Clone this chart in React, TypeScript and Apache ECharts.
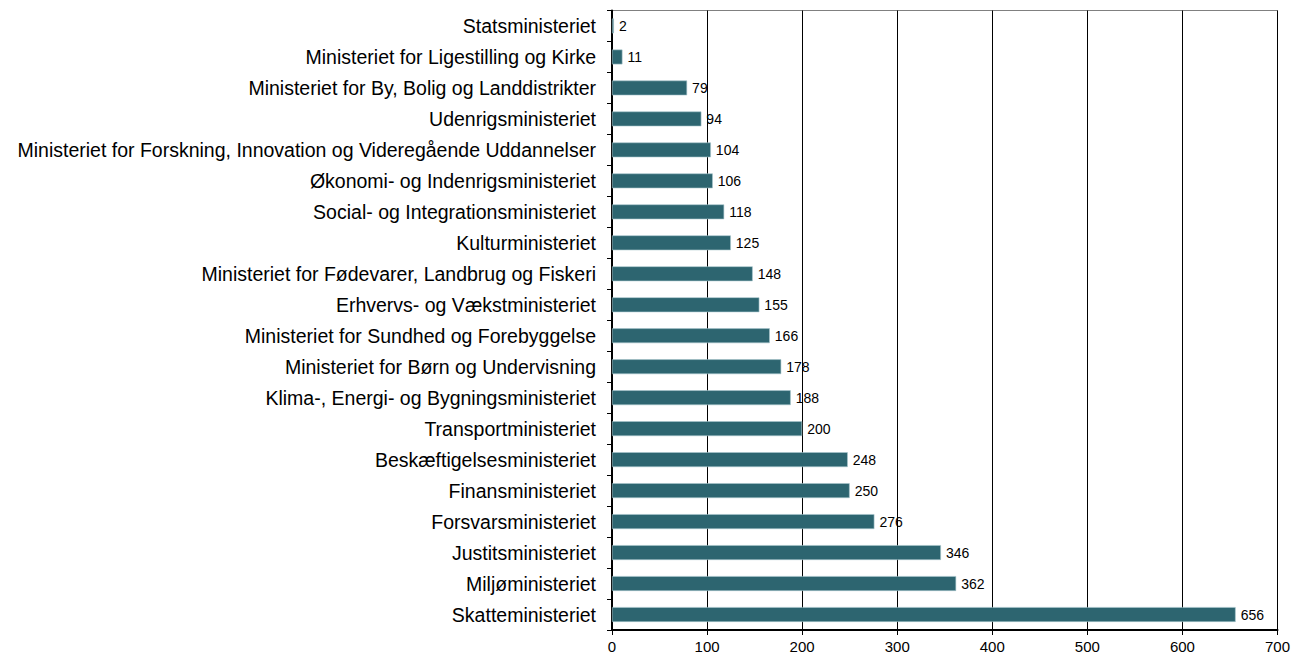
import React, { useEffect, useRef } from "react";
import * as echarts from "echarts";

const categories = [
  "Statsministeriet",
  "Ministeriet for Ligestilling og Kirke",
  "Ministeriet for By, Bolig og Landdistrikter",
  "Udenrigsministeriet",
  "Ministeriet for Forskning, Innovation og Videregående Uddannelser",
  "Økonomi- og Indenrigsministeriet",
  "Social- og Integrationsministeriet",
  "Kulturministeriet",
  "Ministeriet for Fødevarer, Landbrug og Fiskeri",
  "Erhvervs- og Vækstministeriet",
  "Ministeriet for Sundhed og Forebyggelse",
  "Ministeriet for Børn og Undervisning",
  "Klima-, Energi- og Bygningsministeriet",
  "Transportministeriet",
  "Beskæftigelsesministeriet",
  "Finansministeriet",
  "Forsvarsministeriet",
  "Justitsministeriet",
  "Miljøministeriet",
  "Skatteministeriet",
];

const values = [2, 11, 79, 94, 104, 106, 118, 125, 148, 155, 166, 178, 188, 200, 248, 250, 276, 346, 362, 656];

const xMin = 0;
const xMax = 700;
const xStep = 100;

export default function App() {
  const ref = useRef<HTMLDivElement>(null);
  useEffect(() => {
    if (!ref.current) return;
    const chart = echarts.init(ref.current, undefined, { renderer: "svg" });
    const font = "Arial, 'Liberation Sans', sans-serif";
    chart.setOption({
      animation: false,
      textStyle: { fontFamily: font },
      grid: {
        left: 612,
        right: 13,
        top: 10.5,
        bottom: 24,
        show: true,
        borderColor: "#808080",
        borderWidth: 1,
        containLabel: false,
      },
      xAxis: {
        type: "value",
        min: xMin,
        max: xMax,
        interval: xStep,
        axisLine: { show: true, lineStyle: { color: "#000", width: 2 } },
        axisTick: { show: true, inside: false, length: 5, lineStyle: { color: "#000", width: 1 } },
        axisLabel: { color: "#000", fontSize: 15, fontFamily: font, margin: 9 },
        splitLine: { show: true, lineStyle: { color: "#000", width: 1 } },
      },
      yAxis: {
        type: "category",
        data: categories,
        inverse: true,
        axisLine: { show: true, lineStyle: { color: "#000", width: 2 } },
        axisTick: { show: true, inside: false, length: 5, lineStyle: { color: "#000", width: 1 } },
        axisLabel: { color: "#000", fontSize: 19.5, fontFamily: font, margin: 16 },
        splitLine: { show: false },
      },
      series: [
        {
          type: "bar",
          data: values,
          barCategoryGap: "52%",
          itemStyle: { color: "#2d6570", borderColor: "#a8c6cc", borderWidth: 0.6 },
          label: {
            show: true,
            position: "right",
            distance: 5,
            color: "#000",
            fontSize: 14,
            fontFamily: font,
          },
        },
      ],
    });
    return () => chart.dispose();
  }, []);
  return (
    <div
      ref={ref}
      style={{ position: "fixed", left: 0, top: 0, width: 1293, height: 654, background: "#fff" }}
    />
  );
}
